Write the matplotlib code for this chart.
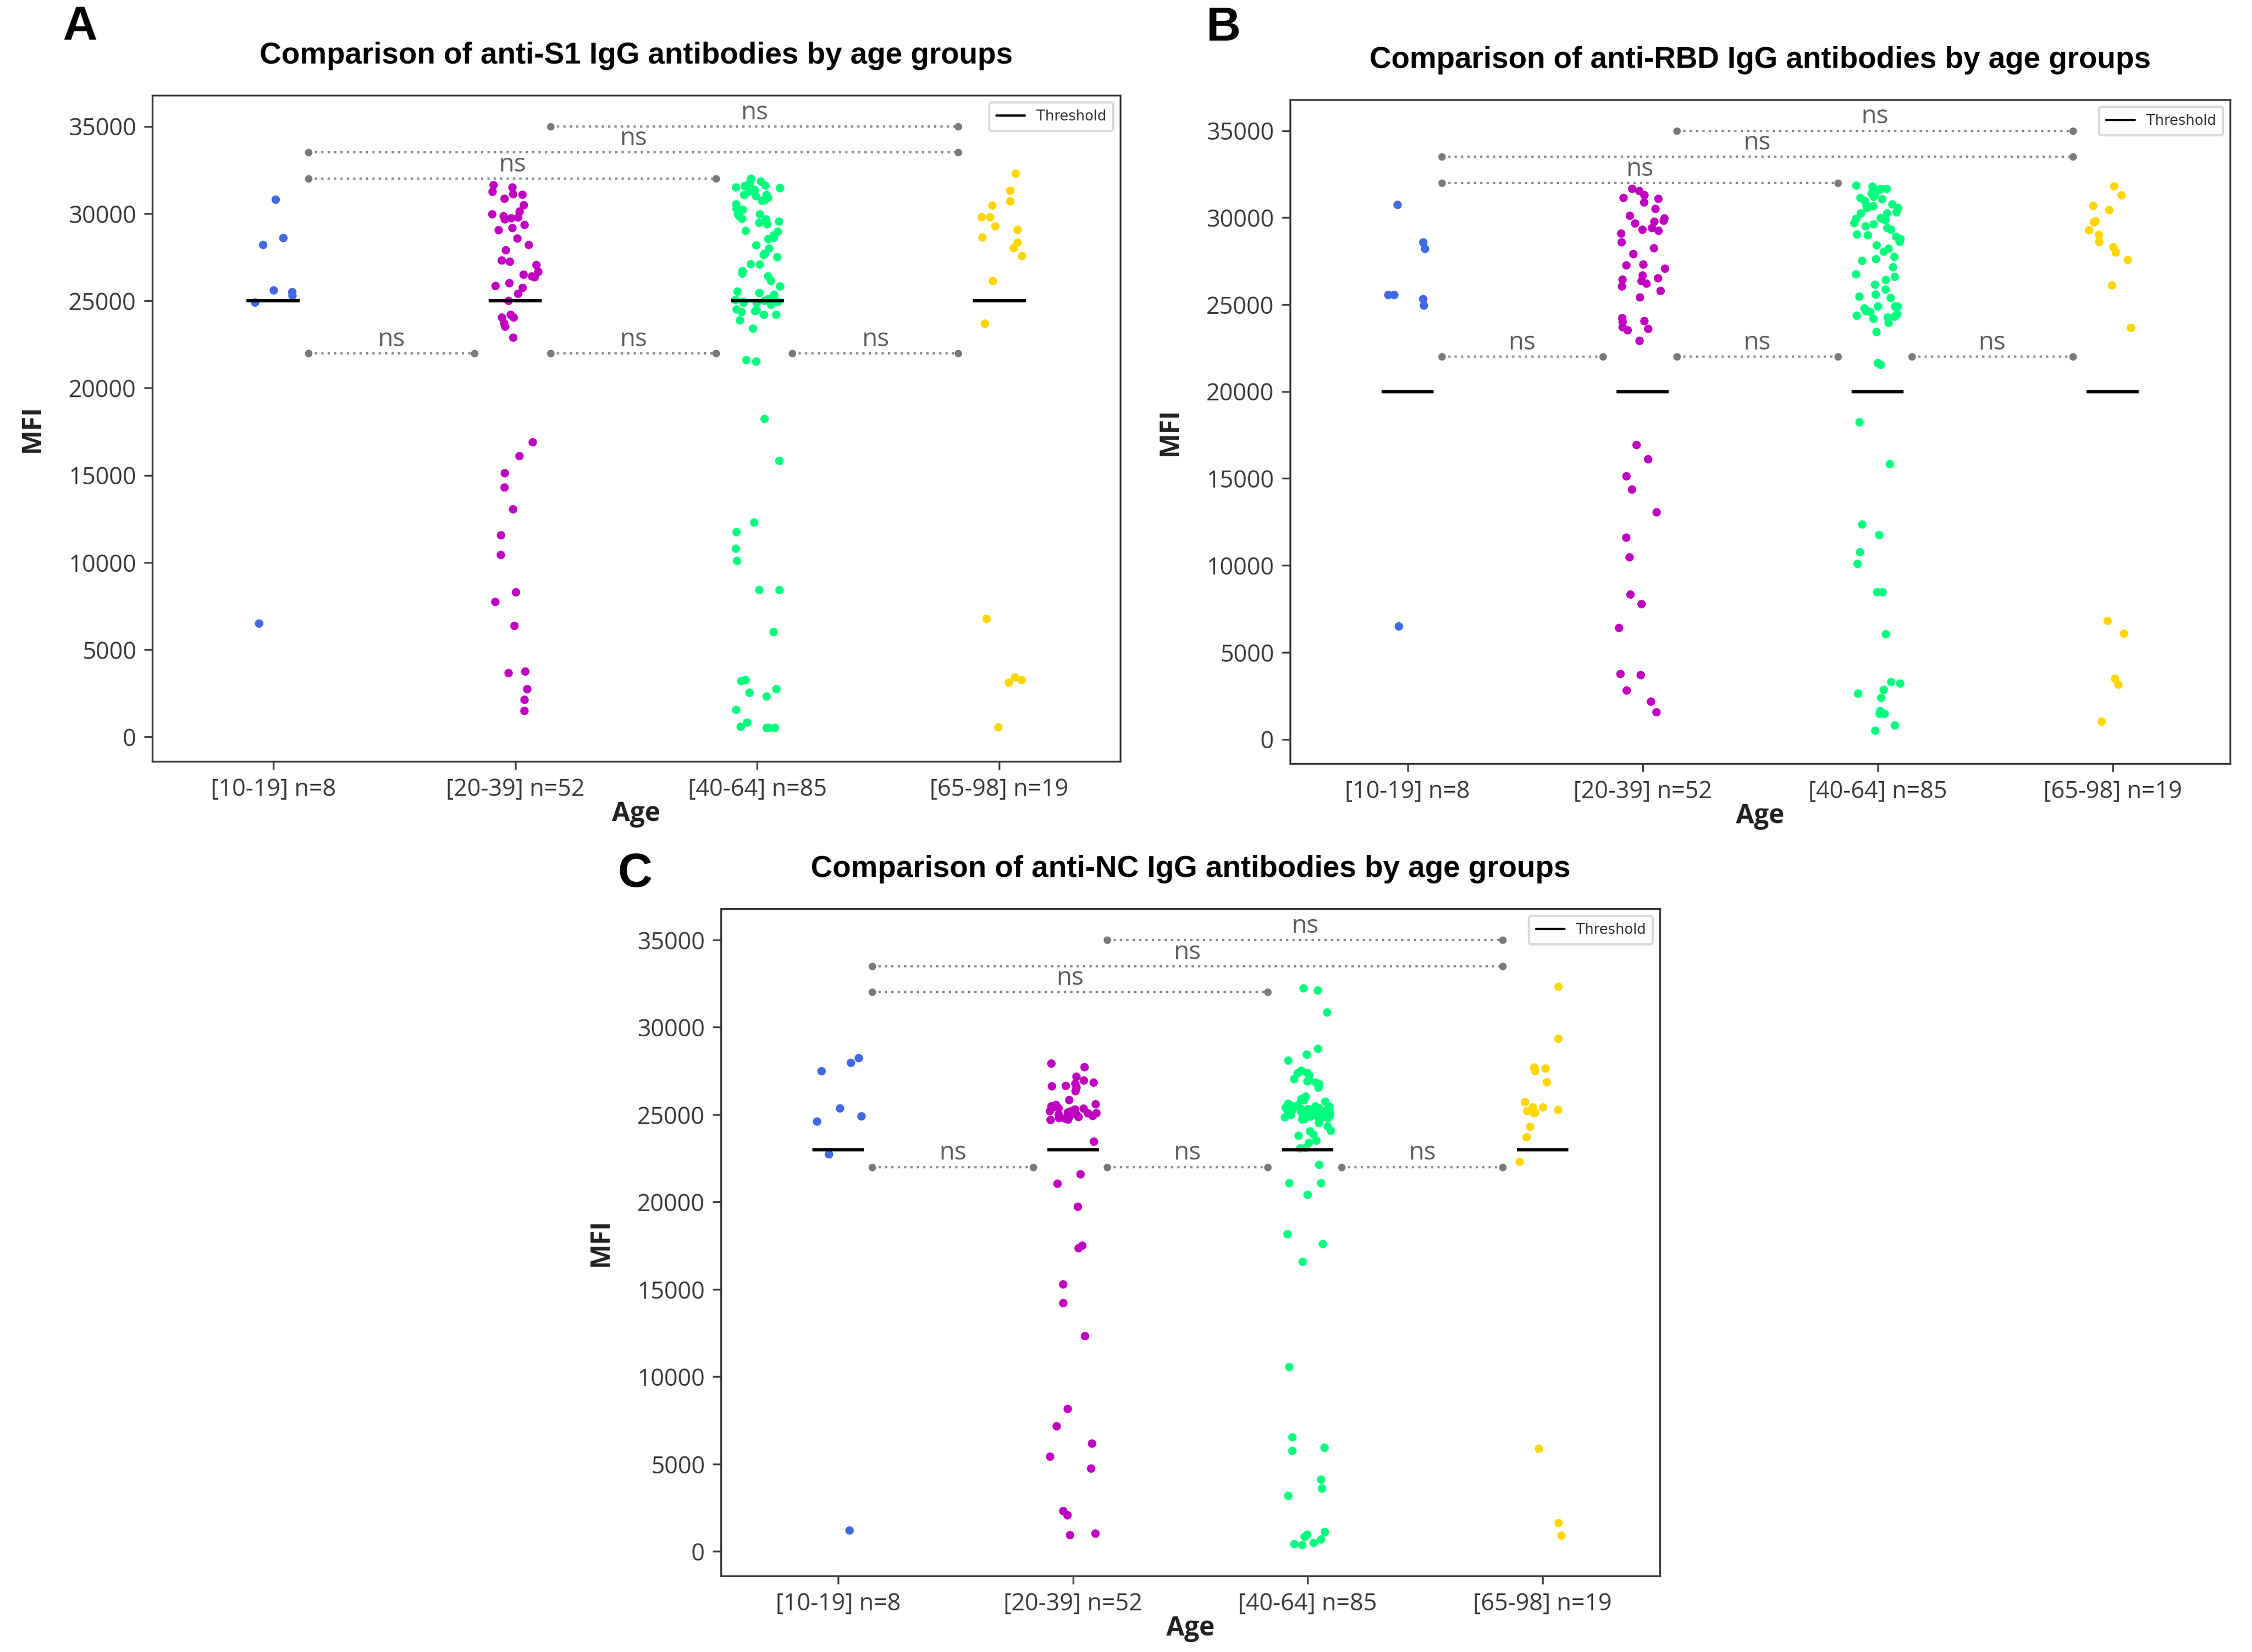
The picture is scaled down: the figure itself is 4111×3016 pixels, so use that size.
import numpy as np
import pandas as pd
import matplotlib
matplotlib.use("Agg")
import matplotlib.pyplot as plt
import seaborn as sns
from matplotlib.lines import Line2D
from matplotlib import font_manager

# ---------------- data ----------------
groups = ["[10-19] n=8", "[20-39] n=52", "[40-64] n=85", "[65-98] n=19"]
group_colors = ["royalblue", "#C000C0", "springgreen", "gold"]

titles = ["Comparison of anti-S1 IgG antibodies by age groups",
          "Comparison of anti-RBD IgG antibodies by age groups",
          "Comparison of anti-NC IgG antibodies by age groups"]
panel_letters = ["A", "B", "C"]
thresholds = [25000, 20000, 23000]
yticks = [0, 5000, 10000, 15000, 20000, 25000, 30000, 35000]

# significance brackets: (group i, group j, height, label)
brackets = [(0, 1, 22000, "ns"), (1, 2, 22000, "ns"), (2, 3, 22000, "ns"),
            (0, 2, 32000, "ns"), (0, 3, 33500, "ns"), (1, 3, 35000, "ns")]

# ---- Panel A : anti-S1 ----
s1_10_19 = [30800, 28600, 28200, 25600, 25500, 25300, 24900, 6500]
s1_20_39 = [31630, 31500, 31250, 31110, 31080, 30850, 30480, 30120, 29960, 29780,
            29850, 29730, 29670, 29350, 29170, 29050, 28570, 28200, 27900, 27310,
            27240, 27050, 26660, 26500, 26350, 26400, 26010, 25850, 25740, 25400,
            25000, 24040, 24200, 24040, 23710, 23520, 22890,
            16890, 16100, 15120, 14300, 13050, 11560, 10430, 8290, 7740,
            6370, 3660, 3750, 2740, 2130, 1490]
s1_40_64 = [32000, 31600, 31740, 31840, 31270, 31370, 31500, 31580, 31460, 31060,
            31060, 30760, 30900, 31000, 30740, 30530, 30270, 30220, 30170, 29960,
            29850, 29960, 29700, 29540, 29670, 29470, 29380, 29010, 28960, 28750,
            28540, 28180, 28600, 28000, 27710, 27500, 27630, 27100, 27080, 26710,
            26560, 26400, 26140, 25820, 25350, 25450, 25530, 24880, 24930, 24770,
            24460, 24410, 24880, 24360, 24510, 24200, 24200, 23880, 23410, 25050,
            24950, 25100, 25000,
            21520, 21600, 18230, 15820, 12290, 11740, 10790, 10090, 8420, 8420,
            6010, 3200, 3260, 2320, 2740, 2530, 1550, 520, 820, 520, 580, 520]
s1_65_98 = [32290, 31310, 30460, 30700, 29790, 29790, 29270, 29060, 28630, 28330,
            28020, 27560, 26130, 23690, 6770, 3410, 3260, 3110, 550]

# ---- Panel B : anti-RBD ----
rbd_10_19 = [30730, 28570, 28200, 25550, 25550, 25310, 24940, 6490]
rbd_20_39 = [31650, 31530, 31290, 31130, 31080, 30870, 30500, 30100, 29950, 29760,
             29660, 29820, 29400, 29240, 29080, 28580, 28240, 27900, 27300, 27250,
             27060, 26670, 26510, 26430, 26350, 26040, 25780, 25410, 24220, 24010,
             24050, 23700, 23520, 22910, 29300, 26200, 23600,
             16920, 16100, 15120, 14360, 13050, 11590, 10460, 8320, 7770, 6400,
             3750, 3690, 2800, 2160, 1550]
rbd_40_64 = [31650, 31650, 31780, 31840, 31290, 31390, 31050, 31130, 30970, 30760,
             30710, 30660, 30550, 30550, 30240, 30240, 29970, 29920, 29920, 29610,
             29680, 29500, 29400, 29030, 28980, 28770, 28610, 28400, 28210, 28030,
             27610, 27740, 27510, 27140, 26740, 26590, 26410, 26140, 25860, 25570,
             25380, 25460, 24890, 24890, 24890, 24780, 24620, 24410, 24570, 24360,
             24260, 24180, 23940, 23420, 31550, 31200, 30600, 30300, 29850, 29300,
             28900, 24700, 24450, 24300,
             21630, 21530, 18230, 15820, 12350, 11740, 10760, 10090, 8450, 8450,
             6040, 3290, 3200, 2620, 2840, 2380, 1460, 1460, 1620, 790, 490]
rbd_65_98 = [31800, 31280, 30670, 30430, 29730, 29790, 29270, 29000, 28600, 28300,
             27990, 27560, 26100, 23660, 6800, 6070, 3480, 3140, 1010]

# ---- Panel C : anti-NC ----
nc_10_19 = [28230, 27960, 27480, 25350, 24900, 24600, 22720, 1200]
nc_20_39 = [27920, 27710, 27170, 26950, 26770, 26830, 26640, 26540, 26620, 26340,
            25830, 25590, 23450,
            25550, 25470, 25430, 25360, 25340, 25290, 25270, 25200, 25190, 25120,
            25080, 25070, 25000, 24990, 24920, 24880, 24860, 24800, 24780, 24770,
            24710, 24690,
            21580, 21040, 19720, 17350, 17500, 15280, 14210, 12320, 8150, 7160,
            6170, 5420, 4740, 2310, 2070, 1020, 930]
nc_40_64 = [32100, 32220, 30840, 28760, 28430, 28090, 27510, 27380, 27360, 27230,
            27030, 26900, 27000, 26830, 26740, 26540, 25830, 26030, 25740, 25880,
            24520, 24070, 24320, 24040, 23790, 23860, 23500, 23380, 23070, 23090,
            25610, 25540, 25520, 25470, 25460, 25410, 25390, 25370, 25330, 25320,
            25290, 25270, 25240, 25230, 25190, 25170, 25160, 25120, 25100, 25090,
            25040, 25030, 25000, 24980, 24960, 24910, 24900, 24880, 24840, 24830,
            24790, 24780, 24740, 24720,
            22120, 21070, 21070, 20410, 18160, 17590, 16570, 10550, 6530, 5930,
            5750, 4110, 3600, 3180, 840, 690, 960, 1110, 360, 480, 420]
nc_65_98 = [32310, 29340, 27630, 27690, 27480, 26850, 25710, 25410, 25410, 25110,
            25080, 25260, 25200, 24300, 23700, 22300, 5870, 1620, 900]

panel_data = [[s1_10_19, s1_20_39, s1_40_64, s1_65_98],
              [rbd_10_19, rbd_20_39, rbd_40_64, rbd_65_98],
              [nc_10_19, nc_20_39, nc_40_64, nc_65_98]]


# ---------------- fonts ----------------
def pick(*names):
    for n in names:
        try:
            font_manager.findfont(font_manager.FontProperties(family=n),
                                  fallback_to_default=False)
            return n
        except Exception:
            pass
    return "DejaVu Sans"

TICK_FONT = pick("Open Sans", "Liberation Sans")
TITLE_FONT = pick("Liberation Sans", "Roboto")
LABEL_FONT = pick("Open Sans", "Liberation Sans")

sns.set_style("white")
plt.rcParams["font.family"] = [TICK_FONT, "DejaVu Sans"]

# ---------------- figure ----------------
W, H = 4111, 3016
DPI = 300
fig = plt.figure(figsize=(W / DPI, H / DPI), dpi=DPI, facecolor="white")

def px_axes(l, t, r, b):
    return [l / W, 1 - b / H, (r - l) / W, (b - t) / H]

axes_px = [(278, 174, 2045, 1390), (2355, 182, 4071, 1394), (1316, 1659, 3030, 2877)]
letter_px = [(146, 50), (2233, 52), (1159, 1596)]

np.random.seed(3)
for k in range(3):
    ax = fig.add_axes(px_axes(*axes_px[k]))
    df = pd.DataFrame({
        "Age": np.concatenate([[g] * len(v) for g, v in zip(groups, panel_data[k])]),
        "MFI": np.concatenate([np.asarray(v, float) for v in panel_data[k]]),
    })
    sns.stripplot(data=df, x="Age", y="MFI", hue="Age", order=groups, hue_order=groups,
                  palette=dict(zip(groups, group_colors)), jitter=0.1, size=3.7,
                  linewidth=0, legend=False, ax=ax, zorder=2)

    # threshold marks
    for i in range(len(groups)):
        ax.hlines(thresholds[k], i - 0.11, i + 0.11, color="black", lw=1.5, zorder=4)

    # significance brackets
    for (i, j, yb, lab) in brackets:
        x0, x1 = i + 0.145, j - 0.17
        ax.plot([x0, x1], [yb, yb], ls=(0, (1, 1.8)), lw=1.0, color="#8a8a8a",
                marker="o", ms=2.3, mec="#7a7a7a", mfc="#7a7a7a", zorder=3)
        ax.annotate(lab, xy=((x0 + x1) / 2, yb), xytext=(0, 0.5),
                    textcoords="offset points", ha="center", va="bottom",
                    color="#5e5e5e", fontsize=11, family=TICK_FONT)

    ax.set_xlim(-0.5, 3.5)
    ax.set_ylim(-1400, 36780)
    ax.set_yticks(yticks)
    ax.set_yticklabels([str(v) for v in yticks])
    ax.tick_params(axis="both", which="both", length=3.5, width=0.8, color="#444444",
                   labelsize=10.4, labelcolor="#3a3a3a", left=True, bottom=True)
    for lbl in ax.get_xticklabels() + ax.get_yticklabels():
        lbl.set_family(TICK_FONT)
    for sp in ax.spines.values():
        sp.set_visible(True)
        sp.set_color("#3a3a3a")
        sp.set_linewidth(0.8)

    ax.set_xlabel("Age", fontsize=11.5, fontweight="bold", family=LABEL_FONT,
                  color="#222222", labelpad=-0.5)
    ax.set_ylabel("MFI", fontsize=11.5, fontweight="bold", family=LABEL_FONT,
                  color="#222222", labelpad=10)
    ax.set_title(titles[k], fontsize=13.2, fontweight="bold", family=TITLE_FONT,
                 color="black", pad=14)

    handle = Line2D([0], [0], color="black", lw=1.0)
    leg = ax.legend([handle], ["Threshold"], loc="upper right",
                    prop={"family": "DejaVu Sans", "size": 6.2}, frameon=True,
                    fancybox=True, edgecolor="#d0d0d0", borderpad=0.5)
    for t in leg.get_texts():
        t.set_color("#333333")

    lx, ly = letter_px[k]
    fig.text(lx / W, 1 - ly / H, panel_letters[k], fontsize=21, fontweight="bold",
             family=TITLE_FONT, ha="center", va="center", color="black")

fig.savefig("out.png", dpi=DPI, facecolor="white")
